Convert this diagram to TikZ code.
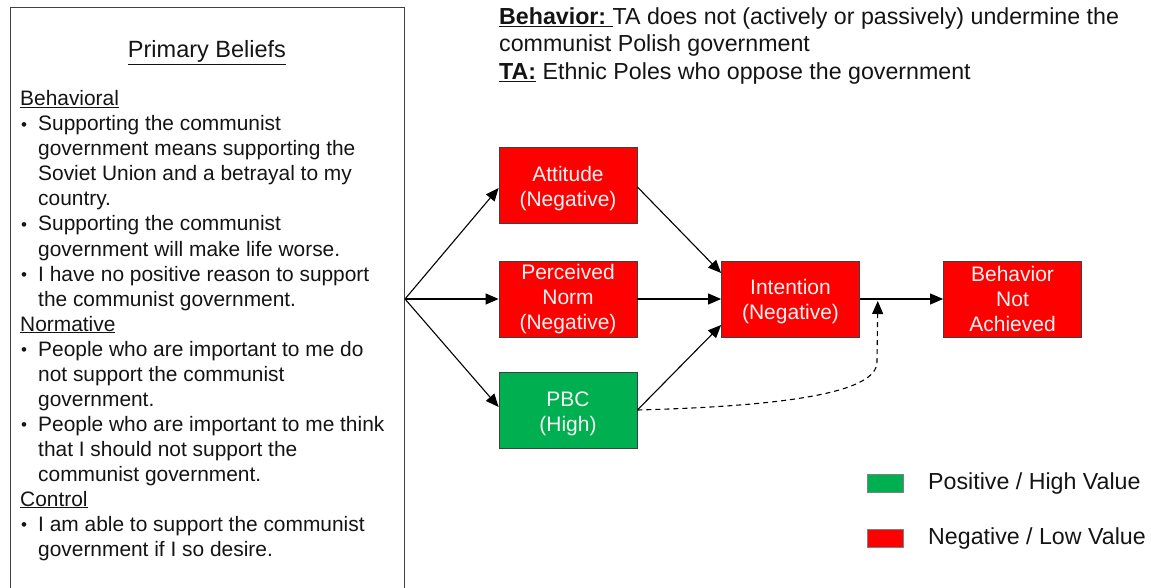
\documentclass[tikz,border=0pt]{standalone}
\usepackage{fontspec}
\setmainfont{Liberation Sans}
\usetikzlibrary{arrows.meta,calc}

\definecolor{negred}{HTML}{FF0000}
\definecolor{posgreen}{HTML}{00B050}
\definecolor{edgegray}{HTML}{404040}
\definecolor{boxtext}{HTML}{F4F4F4}
\definecolor{ink}{HTML}{141414}

\newcommand{\blt}{\makebox[18pt][l]{\hspace{1pt}\fontsize{17}{17}\selectfont\raisebox{0.5pt}{\textbullet}}}
\newcommand{\ind}{\hspace*{18pt}}

\tikzset{
  txt/.style={anchor=base west, inner sep=0pt, font=\fontsize{20.9}{25}\selectfont, text=ink},
  hdr/.style={anchor=base west, inner sep=0pt, font=\fontsize{23.2}{27}\selectfont, text=ink},
  stage/.style={draw=edgegray, line width=0.8pt, minimum width=138pt, minimum height=76pt, inner sep=0pt},
  negbox/.style={stage, fill=negred},
  posbox/.style={stage, fill=posgreen},
  stagetxt/.style={inner sep=0pt, align=center, text=boxtext, font=\fontsize{21}{25}\selectfont},
  swatch/.style={draw=gray, line width=0.6pt, minimum width=36pt, minimum height=18pt, inner sep=0pt},
  keytxt/.style={anchor=west, inner sep=0pt, font=\fontsize{23.2}{27}\selectfont, text=ink},
  arr/.style={line width=1.1pt, -{Triangle[length=13pt,width=11pt]}},
}

\begin{document}
\begin{tikzpicture}[x=1pt,y=-1pt]
  \useasboundingbox (0,0) rectangle (1151,588);
  \clip (0,0) rectangle (1151,588);

  % belief panel
  \node[draw=black!75, line width=1pt, anchor=north west, minimum width=394pt,
        minimum height=620pt, inner sep=0pt] (beliefs) at (10,7) {};
  \node[anchor=base, inner sep=0pt, font=\fontsize{23.5}{27}\selectfont, text=ink]
        (title) at (207,58) {\underline{Primary Beliefs}};

  \foreach \t [count=\i] in {
    {\underline{Behavioral}},
    {\blt Supporting the communist},
    {\ind government means supporting the},
    {\ind Soviet Union and a betrayal to my},
    {\ind country.},
    {\blt Supporting the communist},
    {\ind government will make life worse.},
    {\blt I have no positive reason to support},
    {\ind the communist government.},
    {\underline{Normative}},
    {\blt People who are important to me do},
    {\ind not support the communist},
    {\ind government.},
    {\blt People who are important to me think},
    {\ind that I should not support the},
    {\ind communist government.},
    {\underline{Control}},
    {\blt I am able to support the communist},
    {\ind government if I so desire.}}
    \node[txt] (line\i) at (20,{81+25*\i}) {\t};

  % behaviour and target audience
  \node[hdr] (hdrA) at (499,25) {\textbf{\underline{Behavior:\ }}TA does not (actively or passively) undermine the};
  \node[hdr] (hdrB) at (499,52) {communist Polish government};
  \node[hdr] (hdrC) at (499,80) {\textbf{\underline{TA:}} Ethnic Poles who oppose the government};

  % model stages
  \node[negbox] (att) at (568,185) {};
  \node[negbox] (pn)  at (568,299) {};
  \node[posbox] (pbc) at (568,410) {};
  \node[negbox] (int) at (790.5,299) {};
  \node[negbox] (beh) at (1012.5,299) {};

  \node[stagetxt] (attT) at ([yshift=-4pt]att.center) {Attitude\\(Negative)};
  \node[stagetxt] (pnT)  at (pn.center) {Perceived\\Norm\\(Negative)};
  \node[stagetxt] (pbcT) at ([yshift=-4pt]pbc.center) {PBC\\(High)};
  \node[stagetxt] (intT) at ([yshift=-3pt]int.center) {Intention\\(Negative)};
  \node[stagetxt] (behT) at (beh.center) {Behavior\\Not\\Achieved};

  \coordinate (fan) at (beliefs.east |- pn.west);
  \coordinate (join) at ($(int.east)!0.215!(beh.west)$);

  % connectors
  \draw[arr] (fan) -- ([yshift=-3pt]att.west);
  \draw[arr] (fan) -- (pn.west);
  \draw[arr] (fan) -- ([yshift=3pt]pbc.west);
  \draw[arr] ([yshift=-2pt]att.east) -- ([yshift=26pt]int.west);
  \draw[arr] (pn.east) -- (int.west);
  \draw[arr] (pbc.east) -- ([yshift=-26pt]int.west);
  \draw[arr] (int.east) -- (beh.west);
  \draw[line width=1.1pt, dash pattern=on 5pt off 4pt, -{Triangle[length=13pt,width=11pt]}]
    (pbc.east) .. controls (790,406) and (877,392) .. (877,362) -- ([yshift=-2pt]join);

  % legend
  \node[swatch, fill=posgreen] (keyPos) at (885,483) {};
  \node[swatch, fill=negred]   (keyNeg) at (885,538) {};
  \node[keytxt] (keyPosTxt) at (928,483) {Positive / High Value};
  \node[keytxt] (keyNegTxt) at (928,538) {Negative / Low Value};
\end{tikzpicture}
\end{document}
